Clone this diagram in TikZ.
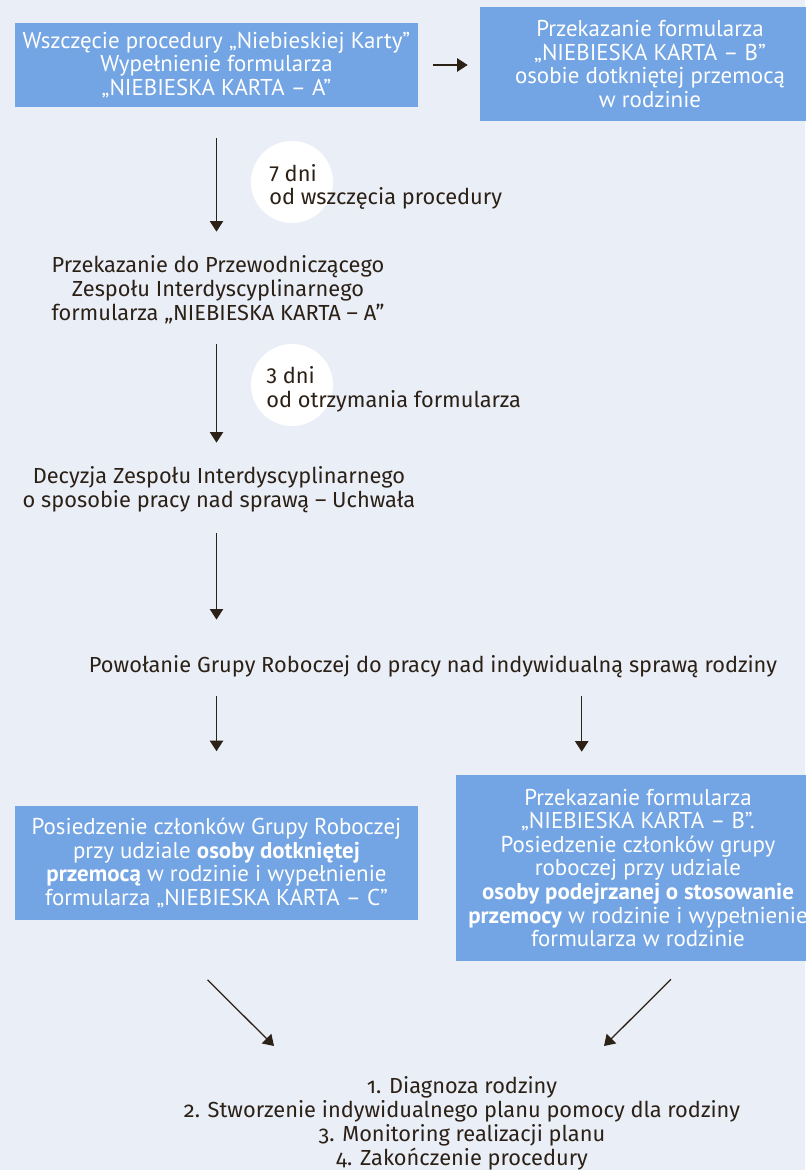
\documentclass[tikz,border=0pt]{standalone}
\usepackage{fontspec}
\setmainfont{Fira Sans}
\newfontfamily\boxfont{PT Sans}
\usetikzlibrary{arrows.meta}
\definecolor{bgcol}{HTML}{EAEEF7}
\definecolor{boxblue}{HTML}{73A4E3}
\definecolor{inkbrown}{HTML}{2B2116}

\begin{document}
\begin{tikzpicture}[x=0.025cm,y=-0.025cm,
    bluebox/.style={fill=boxblue,text=white,align=center,inner sep=0pt,
      font=\boxfont\fontsize{16.3}{16.8}\selectfont},
    plaintext/.style={text=inkbrown,align=center,inner sep=0pt,
      font=\fontsize{15.5}{17}\selectfont},
    flow/.style={draw=inkbrown,line width=0.9pt,-{Triangle[length=7.5pt,width=9.5pt]}},
    daybubble/.style={circle,fill=white,minimum size=2.05cm,inner sep=0pt}]
            % background
            \fill [bgcol] (0,0) rectangle (805,1170);
            \useasboundingbox (0,0) rectangle (805,1170);
            % top left box
            \node [bluebox,minimum width=10.05cm,minimum height=2.1cm] (kartaA) at (216.5,65) {Wszczęcie procedury „Niebieskiej Karty”\\Wypełnienie formularza\\„NIEBIESKA KARTA – A”};
            % top right box
            \node [bluebox,minimum width=8.5cm,minimum height=2.85cm] (kartaB) at (650,64) {Przekazanie formularza\\„NIEBIESKA KARTA – B”\\osobie dotkniętej przemocą\\w rodzinie};
            % arrow right
            \draw [flow,shorten <=0.375cm,shorten >=0.3cm] (kartaA.east) -- (kartaA.east -| kartaB.west);
            % handing over to the chairman
            \node [plaintext] (przekazanie) at (218,290) {Przekazanie do Przewodniczącego\\Zespołu Interdyscyplinarnego\\formularza „NIEBIESKA KARTA – A”};
            % 7 days
            \node [daybubble] (bubble7) at (292,182) {};
            \node [plaintext,align=left,anchor=west] (dni7) at (269,187) {7 dni\\od wszczęcia procedury};
            \draw [flow,shorten <=0.775cm,shorten >=0.6cm] (kartaA.south) -- (kartaA.south |- przekazanie.north);
            % decision of the team
            \node [plaintext] (decyzja) at (219,490) {Decyzja Zespołu Interdyscyplinarnego\\o sposobie pracy nad sprawą – Uchwała};
            % 3 days
            \node [daybubble] (bubble3) at (292,385) {};
            \node [plaintext,align=left,anchor=west] (dni3) at (266,389) {3 dni\\od otrzymania formularza};
            \draw [flow,shorten <=0.5cm,shorten >=0.6cm] (przekazanie.south -| kartaA.south) -- (kartaA.south |- decyzja.north);
            % working group
            \node [plaintext] (powolanie) at (433,667) {Powołanie Grupy Roboczej do pracy nad indywidualną sprawą rodziny};
            \draw [flow,shorten <=0.5cm,shorten >=0.9cm] (decyzja.south -| kartaA.south) -- (kartaA.south |- powolanie.north);
            % bottom left box
            \node [bluebox,minimum width=10.05cm,minimum height=2.825cm] (spotkanieA) at (216.5,863) {Posiedzenie członków Grupy Roboczej\\przy udziale \textbf{osoby dotkniętej}\\\textbf{przemocą} w rodzinie i wypełnienie\\formularza „NIEBIESKA KARTA – C”};
            % bottom right box
            \node [bluebox,minimum width=9.1cm,minimum height=4.65cm] (spotkanieB) at (638,868) {Przekazanie formularza\\„NIEBIESKA KARTA – B”.\\Posiedzenie członków grupy\\roboczej przy udziale\\\textbf{osoby podejrzanej o stosowanie}\\\textbf{przemocy} w rodzinie i wypełnienie\\formularza w rodzinie};
            % arrows down to both boxes
            \draw [flow,shorten <=0.45cm,shorten >=1.375cm] (powolanie.south -| spotkanieA.north) -- (spotkanieA.north);
            \draw [flow,shorten <=0.45cm,shorten >=0.575cm] ([xshift=3.15cm]spotkanieB.north west |- powolanie.south) -- ([xshift=3.15cm]spotkanieB.north west);
            % final steps
            \node [plaintext,font=\fontsize{15.5}{17}\selectfont\addfontfeatures{Numbers=OldStyle}] (kroki) at (462,1123) {1. Diagnoza rodziny\\2. Stworzenie indywidualnego planu pomocy dla rodziny\\3. Monitoring realizacji planu\\4. Zakończenie procedury};
            \coordinate (mergeL) at (274,1046);
            \coordinate (mergeR) at (604,1046);
            \draw [flow] ([shift={(-9,60)}]spotkanieA.south) -- (mergeL);
            \draw [flow] ([shift={(33,18)}]spotkanieB.south) -- (mergeR);
\end{tikzpicture}
\end{document}
